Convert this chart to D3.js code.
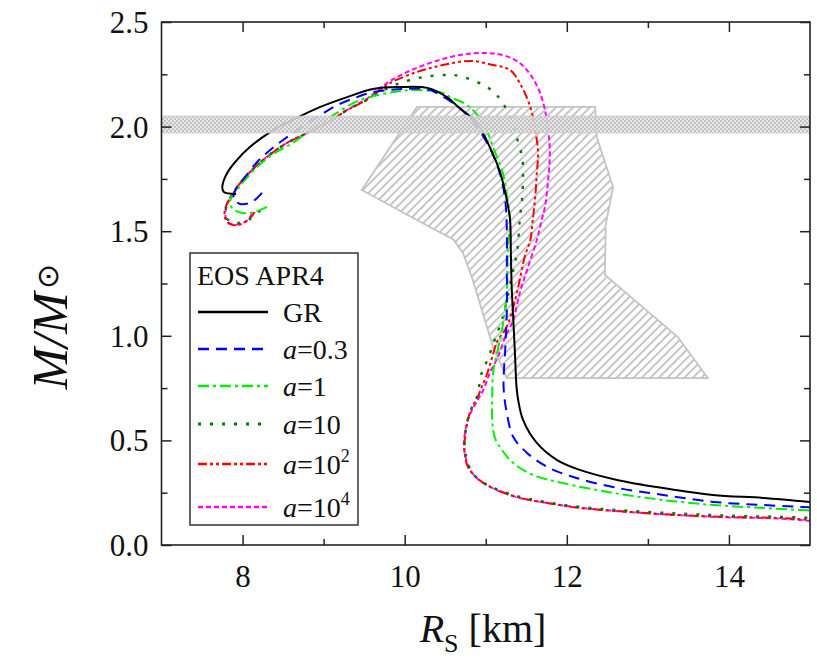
<!DOCTYPE html>
<html><head><meta charset="utf-8">
<script src="https://cdn.jsdelivr.net/npm/d3@7"></script>
<style>body{margin:0;background:#fff} text{font-family:"Liberation Serif","Times New Roman",Times,serif}</style>
</head><body>
<svg id="c" width="817" height="658"></svg>
<script>
// ---------- data ----------
const xDomain = [7, 15];
const yDomain = [0, 2.5];
const xTickValues = [8, 10, 12, 14];
const xMinorTicks = [9, 11, 13];
const yTickValues = [0, 0.5, 1.0, 1.5, 2.0, 2.5];
const yMinorTicks = [0.25, 0.75, 1.25, 1.75, 2.25];

const legendTitle = "EOS APR4";
const seriesLabels = ["GR", "a=0.3", "a=1", "a=10", "a=10^2", "a=10^4"];

const grCurve = [[7.92,1.678],[7.77,1.687],[7.75,1.711],[7.81,1.778],[7.93,1.84],[8.09,1.902],[8.34,1.974],[8.62,2.032],[8.96,2.094],[9.29,2.141],[9.61,2.180],[9.94,2.189],[10.28,2.185],[10.52,2.141],[10.66,2.094],[10.89,2.017],[11.05,1.902],[11.18,1.778],[11.26,1.649],[11.30,1.554],[11.31,1.396],[11.32,1.233],[11.34,1.076],[11.36,0.918],[11.38,0.755],[11.40,0.693],[11.46,0.598],[11.63,0.488],[11.88,0.406],[12.16,0.359],[12.62,0.311],[13.19,0.272],[13.80,0.239],[14.42,0.225],[15.0,0.206]];

const a03Curve = [[8.24,1.683],[8.18,1.659],[8.09,1.635],[7.97,1.630],[7.89,1.654],[7.91,1.697],[7.97,1.730],[8.03,1.759],[8.18,1.831],[8.34,1.888],[8.50,1.936],[8.71,1.993],[8.96,2.055],[9.17,2.103],[9.41,2.141],[9.61,2.165],[9.82,2.175],[10.00,2.180],[10.28,2.178],[10.52,2.132],[10.72,2.075],[10.90,1.993],[11.05,1.898],[11.18,1.769],[11.24,1.649],[11.26,1.506],[11.26,1.315],[11.26,1.123],[11.24,0.932],[11.22,0.755],[11.26,0.631],[11.34,0.516],[11.51,0.440],[11.76,0.373],[12.08,0.325],[12.57,0.277],[13.19,0.239],[13.81,0.206],[14.42,0.191],[15.0,0.180]];

const a1Curve = [[8.30,1.616],[8.15,1.592],[8.00,1.587],[7.87,1.611],[7.85,1.649],[7.93,1.697],[8.03,1.745],[8.18,1.807],[8.40,1.874],[8.62,1.922],[8.87,1.993],[9.12,2.055],[9.45,2.127],[9.86,2.165],[10.15,2.175],[10.47,2.161],[10.56,2.141],[10.77,2.103],[10.97,2.017],[11.09,1.902],[11.21,1.778],[11.27,1.649],[11.30,1.554],[11.27,1.396],[11.26,1.205],[11.20,1.028],[11.14,0.918],[11.09,0.822],[11.08,0.693],[11.08,0.598],[11.11,0.516],[11.20,0.454],[11.34,0.392],[11.58,0.335],[11.95,0.296],[12.57,0.249],[13.19,0.215],[13.81,0.191],[14.42,0.177],[15.0,0.165]];

const a10Curve = [[8.22,1.600],[8.10,1.560],[7.96,1.540],[7.85,1.545],[7.79,1.575],[7.81,1.630],[7.90,1.690],[7.97,1.730],[8.12,1.793],[8.30,1.855],[8.55,1.922],[8.75,1.960],[9.04,2.017],[9.29,2.079],[9.53,2.127],[9.72,2.170],[9.94,2.208],[10.23,2.237],[10.52,2.247],[10.68,2.242],[10.97,2.199],[11.11,2.161],[11.21,2.113],[11.30,2.046],[11.36,1.984],[11.40,1.922],[11.45,1.855],[11.46,1.778],[11.45,1.663],[11.42,1.554],[11.39,1.410],[11.34,1.315],[11.27,1.185],[11.20,1.076],[11.11,0.980],[11.02,0.884],[10.95,0.822],[10.89,0.707],[10.81,0.640],[10.76,0.570],[10.74,0.500],[10.75,0.440],[10.79,0.380],[10.88,0.325],[11.07,0.278],[11.38,0.235],[11.75,0.205],[12.16,0.182],[12.78,0.163],[13.40,0.150],[14.00,0.140],[14.60,0.135],[15.0,0.130]];

const a1e2Curve = [[8.15,1.592],[8.07,1.554],[7.95,1.530],[7.84,1.535],[7.78,1.568],[7.80,1.625],[7.90,1.690],[7.97,1.730],[8.12,1.793],[8.30,1.855],[8.55,1.922],[8.75,1.960],[9.04,2.017],[9.29,2.079],[9.53,2.127],[9.70,2.175],[9.82,2.208],[10.15,2.261],[10.47,2.294],[10.81,2.314],[11.09,2.294],[11.30,2.271],[11.42,2.208],[11.55,2.094],[11.61,1.984],[11.645,1.874],[11.63,1.778],[11.61,1.663],[11.58,1.554],[11.55,1.458],[11.48,1.377],[11.40,1.233],[11.32,1.109],[11.24,1.028],[11.15,0.980],[11.08,0.899],[11.02,0.822],[10.95,0.755],[10.90,0.707],[10.82,0.650],[10.78,0.598],[10.74,0.502],[10.74,0.440],[10.78,0.373],[10.89,0.320],[11.09,0.272],[11.39,0.229],[11.76,0.201],[12.16,0.177],[12.78,0.158],[13.40,0.143],[14.01,0.134],[14.63,0.129],[15.0,0.120]];

const a1e4Curve = [[8.12,1.585],[8.05,1.550],[7.94,1.532],[7.84,1.538],[7.79,1.570],[7.81,1.628],[7.91,1.692],[7.98,1.733],[8.13,1.796],[8.31,1.858],[8.56,1.925],[8.76,1.963],[9.05,2.020],[9.30,2.082],[9.54,2.135],[9.78,2.208],[10.03,2.261],[10.35,2.309],[10.68,2.342],[10.97,2.352],[11.21,2.342],[11.42,2.304],[11.57,2.237],[11.67,2.161],[11.73,2.079],[11.77,1.984],[11.79,1.874],[11.77,1.745],[11.73,1.616],[11.69,1.554],[11.63,1.458],[11.51,1.315],[11.42,1.205],[11.34,1.076],[11.24,0.994],[11.15,0.899],[11.05,0.822],[10.97,0.741],[10.90,0.693],[10.80,0.620],[10.75,0.550],[10.73,0.480],[10.75,0.420],[10.80,0.365],[10.92,0.310],[11.12,0.265],[11.42,0.225],[11.80,0.198],[12.20,0.177],[12.80,0.157],[13.40,0.142],[14.00,0.132],[14.60,0.127],[15.0,0.115]];

const massBand = [1.97, 2.05];
const constraintRegion = [[10.15,2.094],[12.35,2.094],[12.37,1.950],[12.57,1.711],[12.48,1.530],[12.47,1.291],[13.37,0.994],[13.74,0.798],[11.26,0.798],[11.09,0.946],[10.84,1.267],[10.72,1.396],[10.60,1.460],[10.31,1.52],[9.47,1.697]];

// ---------- layout ----------
const svg = d3.select("#c");
const L = 161.5, R = 810, T = 22, B = 545;
const x = d3.scaleLinear().domain(xDomain).range([L, R]);
const y = d3.scaleLinear().domain(yDomain).range([B, T]);
const serif = "Liberation Serif, Times New Roman, Times, serif";

const defs = svg.append("defs");
defs.append("clipPath").attr("id","clip").append("rect")
  .attr("x", L).attr("y", T).attr("width", R-L).attr("height", B-T);
const hatch = defs.append("pattern").attr("id","hatch").attr("patternUnits","userSpaceOnUse")
  .attr("width", 6).attr("height", 6).attr("patternTransform","rotate(45)");
hatch.append("line").attr("x1",1).attr("y1",0).attr("x2",1).attr("y2",6)
  .attr("stroke","#bcbcbc").attr("stroke-width",1.7);
const check = defs.append("pattern").attr("id","check").attr("patternUnits","userSpaceOnUse")
  .attr("width", 4).attr("height", 4);
check.append("rect").attr("width",4).attr("height",4).attr("fill","rgba(228,228,228,0.85)");
check.append("rect").attr("width",2).attr("height",2).attr("fill","rgba(190,190,190,0.9)");
check.append("rect").attr("x",2).attr("y",2).attr("width",2).attr("height",2).attr("fill","rgba(190,190,190,0.9)");

const plot = svg.append("g").attr("clip-path","url(#clip)");

// hatched constraint region
plot.append("path")
  .attr("d", d3.line().x(d=>x(d[0])).y(d=>y(d[1])).curve(d3.curveLinearClosed)(constraintRegion))
  .attr("fill","url(#hatch)").attr("stroke","#c4c4c4").attr("stroke-width",1.8);

// curves
const series = [
  {data: grCurve,   color:"#000000", dash:null,            w:2.0},
  {data: a03Curve,  color:"#0000ff", dash:"11,7",          w:2.0},
  {data: a1Curve,   color:"#00ee00", dash:"11,4,3,4",      w:2.0},
  {data: a10Curve,  color:"#007a00", dash:"3,9",           w:2.4},
  {data: a1e2Curve, color:"#ff0000", dash:"9,3,3,3,3,3",   w:2.0},
  {data: a1e4Curve, color:"#ff00ff", dash:"5,3",           w:2.0}
];
const line = d3.line().x(d=>x(d[0])).y(d=>y(d[1])).curve(d3.curveCatmullRom.alpha(0.5));
[5,4,3,2,1,0].forEach(i => {
  const s = series[i];
  plot.append("path").attr("d", line(s.data)).attr("fill","none")
    .attr("stroke", s.color).attr("stroke-width", s.w)
    .attr("stroke-dasharray", s.dash).attr("stroke-linejoin","round");
});

// mass band (on top, partially transparent)
plot.append("rect").attr("x", L).attr("width", R-L)
  .attr("y", y(massBand[1])).attr("height", y(massBand[0]) - y(massBand[1]))
  .attr("fill","url(#check)").attr("stroke","#cccccc").attr("stroke-width",1);

// frame & ticks
svg.append("rect").attr("x",L).attr("y",T).attr("width",R-L).attr("height",B-T)
  .attr("fill","none").attr("stroke","#222").attr("stroke-width",1.6);

const axB = svg.append("g").attr("transform",`translate(0,${B})`)
  .call(d3.axisBottom(x).tickValues(xTickValues).tickSize(-10).tickPadding(20).tickFormat(d3.format("d")));
const axT = svg.append("g").attr("transform",`translate(0,${T})`)
  .call(d3.axisTop(x).tickValues(xTickValues).tickSize(-10).tickFormat(""));
const axBm = svg.append("g").attr("transform",`translate(0,${B})`)
  .call(d3.axisBottom(x).tickValues(xMinorTicks).tickSize(-6).tickFormat(""));
const axTm = svg.append("g").attr("transform",`translate(0,${T})`)
  .call(d3.axisTop(x).tickValues(xMinorTicks).tickSize(-6).tickFormat(""));
const axL = svg.append("g").attr("transform",`translate(${L},0)`)
  .call(d3.axisLeft(y).tickValues(yTickValues).tickSize(-10).tickPadding(13).tickFormat(d3.format(".1f")));
const axR = svg.append("g").attr("transform",`translate(${R},0)`)
  .call(d3.axisRight(y).tickValues(yTickValues).tickSize(-10).tickFormat(""));
const axLm = svg.append("g").attr("transform",`translate(${L},0)`)
  .call(d3.axisLeft(y).tickValues(yMinorTicks).tickSize(-6).tickFormat(""));
const axRm = svg.append("g").attr("transform",`translate(${R},0)`)
  .call(d3.axisRight(y).tickValues(yMinorTicks).tickSize(-6).tickFormat(""));
[axB,axT,axBm,axTm,axL,axR,axLm,axRm].forEach(g => {
  g.attr("font-family", serif);
  g.select(".domain").remove();
  g.selectAll(".tick line").attr("stroke","#222").attr("stroke-width",1.5);
  g.selectAll("text").attr("font-family", serif).attr("font-size", 31).attr("fill","#111");
});
axL.selectAll("text").attr("dy","0.34em");
axB.selectAll("text").attr("dy","0.7em");

// axis titles
const xt = svg.append("text").attr("x", 483).attr("y", 642).attr("text-anchor","middle")
  .attr("font-family", serif).attr("font-size", 40).attr("fill","#111");
xt.append("tspan").attr("font-style","italic").text("R");
xt.append("tspan").attr("font-size", 26).attr("dy", 10).text("S");
xt.append("tspan").attr("dy", -10).text(" [km]");

const yt = svg.append("text").attr("transform","translate(67,327) rotate(-90)").attr("text-anchor","middle")
  .attr("font-family", serif).attr("font-size", 50).attr("fill","#111");
yt.append("tspan").attr("font-style","italic").text("M");
yt.append("tspan").attr("font-style","italic").text("/M");
yt.append("tspan").attr("font-size", 30).attr("dx", 3).attr("dy", -9).text("\u2299");

// legend
const lg = svg.append("g");
lg.append("rect").attr("x",190).attr("y",253).attr("width",168).attr("height",272)
  .attr("fill","#fff").attr("stroke","#333").attr("stroke-width",1.5);
lg.append("text").attr("x",197).attr("y",285).attr("font-family",serif).attr("font-size",28)
  .attr("fill","#111").text(legendTitle);
const rowY = [312, 349, 386, 424, 464, 507];
seriesLabels.forEach((lab, i) => {
  const s = series[i];
  lg.append("line").attr("x1",198).attr("x2",268).attr("y1",rowY[i]).attr("y2",rowY[i])
    .attr("stroke",s.color).attr("stroke-width",s.w+0.5).attr("stroke-dasharray",s.dash);
  const t = lg.append("text").attr("x",283).attr("y",rowY[i]+10).attr("font-family",serif)
    .attr("font-size",28).attr("fill","#111");
  if (lab === "GR") { t.text(lab); return; }
  const m = lab.match(/^a=([^\^]+)(?:\^(.+))?$/);
  t.append("tspan").attr("font-style","italic").text("a");
  t.append("tspan").text("=" + m[1]);
  if (m[2]) t.append("tspan").attr("font-size",18).attr("dy",-12).text(m[2]);
});
</script>
</body></html>
